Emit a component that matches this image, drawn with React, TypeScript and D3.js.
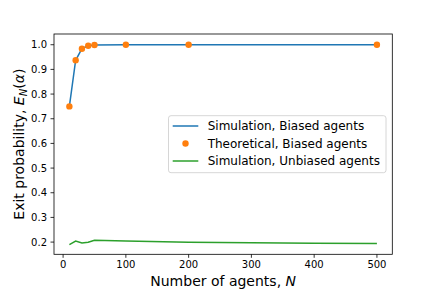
import React from "react";
import * as d3 from "d3";

const agents = [10, 20, 30, 40, 50, 100, 200, 500];
const simBiased = [0.75, 0.937, 0.984, 0.996, 0.999, 1.0, 1.0, 1.0];
const theoBiased = [0.75, 0.937, 0.984, 0.996, 0.999, 1.0, 1.0, 1.0];
const agentsUnbiased = [10, 20, 30, 40, 50, 100, 200, 300, 400, 500];
const simUnbiased = [0.19, 0.204, 0.196, 0.199, 0.207, 0.204, 0.199, 0.197, 0.195, 0.194];
const xTicks = [0, 100, 200, 300, 400, 500];
const yTicks = [0.2, 0.3, 0.4, 0.5, 0.6, 0.7, 0.8, 0.9, 1.0];
const legendLabels = [
  "Simulation, Biased agents",
  "Theoretical, Biased agents",
  "Simulation, Unbiased agents",
];

const W = 436, H = 291;
const L = 54, R = 392.3, T = 34, B = 254.3;
const font = "DejaVu Sans, sans-serif";

export default function App() {
  const x = d3.scaleLinear().domain([-14.5, 524.5]).range([L, R]);
  const y = d3.scaleLinear().domain([0.1505, 1.0435]).range([B, T]);
  const line = d3.line<[number, number]>().x(d => x(d[0])).y(d => y(d[1]));
  const blue = "#1f77b4", orange = "#ff7f0e", green = "#2ca02c";
  const lx = 168.5, ly = 115.7, lw = 217.5, lh = 57;
  const rows = [126, 143.5, 161];
  return (
    <svg width={W} height={H} style={{ position: "absolute", left: 0, top: 0 }} fontFamily={font}>
      <rect width={W} height={H} fill="white" />
      <path d={line(agents.map((a, i) => [a, simBiased[i]]) as any) || ""} fill="none" stroke={blue} strokeWidth={1.5} />
      <path d={line(agentsUnbiased.map((a, i) => [a, simUnbiased[i]]) as any) || ""} fill="none" stroke={green} strokeWidth={1.5} />
      {agents.map((a, i) => (
        <circle key={i} cx={x(a)} cy={y(theoBiased[i])} r={3.2} fill={orange} />
      ))}
      <rect x={L} y={T} width={R - L} height={B - T} fill="none" stroke="#000" strokeWidth={0.8} />
      {xTicks.map(t => (
        <g key={t}>
          <line x1={x(t)} x2={x(t)} y1={B} y2={B + 3.5} stroke="#000" strokeWidth={0.8} />
          <text x={x(t)} y={B + 14} fontSize={10} textAnchor="middle">{t}</text>
        </g>
      ))}
      {yTicks.map(t => (
        <g key={t}>
          <line x1={L} x2={L - 3.5} y1={y(t)} y2={y(t)} stroke="#000" strokeWidth={0.8} />
          <text x={L - 7} y={y(t) + 3.6} fontSize={10} textAnchor="end">{t.toFixed(1)}</text>
        </g>
      ))}
      <text x={(L + R) / 2} y={286} fontSize={14} textAnchor="middle">
        Number of agents, <tspan fontStyle="italic">N</tspan>
      </text>
      <text transform={`translate(23.5,${(T + B) / 2}) rotate(-90)`} fontSize={14} textAnchor="middle">
        Exit probability, <tspan fontStyle="italic">E</tspan>
        <tspan fontStyle="italic" fontSize={10} dy={3}>N</tspan>
        <tspan dy={-3}>(</tspan>
        <tspan fontStyle="italic">α</tspan>)
      </text>
      <rect x={lx} y={ly} width={lw} height={lh} rx={2.5} fill="white" fillOpacity={0.8} stroke="#cccccc" strokeWidth={0.8} />
      <line x1={172.7} x2={198.3} y1={rows[0]} y2={rows[0]} stroke={blue} strokeWidth={1.5} />
      <circle cx={185.5} cy={rows[1]} r={3.2} fill={orange} />
      <line x1={172.7} x2={198.3} y1={rows[2]} y2={rows[2]} stroke={green} strokeWidth={1.5} />
      {legendLabels.map((s, i) => (
        <text key={i} x={207.7} y={rows[i] + 4.3} fontSize={12}>{s}</text>
      ))}
    </svg>
  );
}
